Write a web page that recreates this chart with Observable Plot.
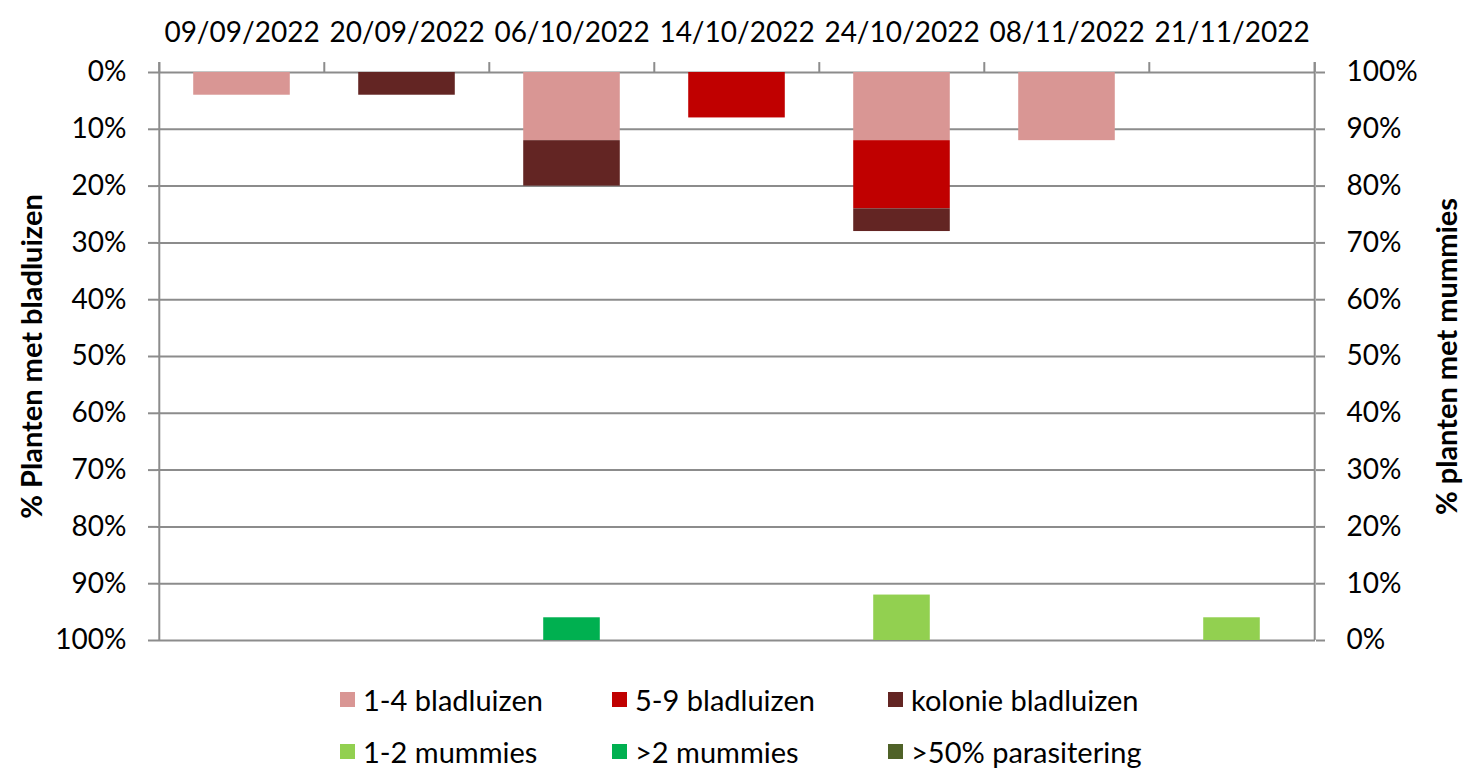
<!DOCTYPE html>
<html>
<head>
<meta charset="utf-8">
<script src="https://cdn.jsdelivr.net/npm/d3@7"></script>
<script src="https://cdn.jsdelivr.net/npm/@observablehq/plot@0.6"></script>
<style>
  html, body { margin: 0; padding: 0; background: #fff; }
  body { width: 1464px; height: 768px; overflow: hidden; font-family: Lato, "Open Sans", sans-serif; }
  #chart svg { display: block; }
  .legend { position: relative; height: 96px; font-family: Lato, sans-serif; font-size: 29px; color: #000; }
  .item { position: absolute; display: flex; align-items: center; white-space: nowrap; }
  .sw { width: 15px; height: 15px; margin-right: 8px; }
</style>
</head>
<body>
<div id="chart"></div>
<div class="legend" id="legend"></div>
<script>
const dates = ["09/09/2022","20/09/2022","06/10/2022","14/10/2022","24/10/2022","08/11/2022","21/11/2022"];
const aphidSeries = ["1-4 bladluizen","5-9 bladluizen","kolonie bladluizen"];
const mummySeries = ["1-2 mummies",">2 mummies",">50% parasitering"];
const colors = ["#D99694","#C00000","#632523","#92D050","#00B050","#4F6228"];

// % plants with aphids per date (left axis, stacked downward)
const aphid14 =   [4, 0, 12, 0, 12, 12, 0];
const aphid59 =   [0, 0, 0, 8, 12, 0, 0];
const aphidKol =  [0, 4, 8, 0, 4, 0, 0];
// % plants with mummies per date (right axis, upward)
const mum12 =     [0, 0, 0, 0, 8, 0, 4];
const mum2plus =  [0, 0, 4, 0, 0, 0, 0];
const mumPar =    [0, 0, 0, 0, 0, 0, 0];

const leftTicks = [0,10,20,30,40,50,60,70,80,90,100];

const aphidRows = [];
dates.forEach((d, i) => {
  [aphid14, aphid59, aphidKol].forEach((arr, s) => {
    if (arr[i] > 0) aphidRows.push({date: d, series: aphidSeries[s], value: arr[i]});
  });
});
const mumRows = [];
dates.forEach((d, i) => {
  let acc = 0;
  [mum12, mum2plus, mumPar].forEach((arr, s) => {
    if (arr[i] > 0) {
      mumRows.push({date: d, series: mummySeries[s], y1: 100 - acc, y2: 100 - acc - arr[i]});
      acc += arr[i];
    }
  });
});

const W = 1464, H = 672;
const mL = 157, mR = 149, mT = 72, mB = 32;
const bw = (W - mL - mR) / dates.length;
const grid = "#8c8c8c";

const chart = Plot.plot({
  width: W, height: H,
  marginLeft: mL, marginRight: mR, marginTop: mT, marginBottom: mB,
  style: {fontFamily: "Lato, sans-serif", fontSize: "28px", color: "#000", background: "#fff"},
  x: {type: "band", domain: dates, padding: 0},
  y: {domain: [0, 100], reverse: true},
  color: {domain: [...aphidSeries, ...mummySeries], range: colors},
  marks: [
    Plot.ruleY(leftTicks, {y: d => d, stroke: grid, strokeWidth: 2}),
    Plot.barY(aphidRows, Plot.stackY({x: "date", y: "value", fill: "series", insetLeft: (bw - 97) / 2, insetRight: (bw - 97) / 2})),
    Plot.barY(mumRows, {x: "date", y1: "y1", y2: "y2", fill: "series", insetLeft: (bw - 57) / 2, insetRight: (bw - 57) / 2}),
    // category separators at top
    Plot.ruleX(dates, {x: d => d, dx: -bw / 2, y1: 0, y2: -1.75, stroke: grid, strokeWidth: 2}),
    Plot.ruleX(dates.slice(-1), {x: d => d, dx: bw / 2, y1: 0, y2: -1.75, stroke: grid, strokeWidth: 2}),
    // left and right axis lines
    Plot.ruleX(dates.slice(0, 1), {x: d => d, dx: -bw / 2, y1: -1.75, y2: 100, stroke: grid, strokeWidth: 2}),
    Plot.ruleX(dates.slice(-1), {x: d => d, dx: bw / 2, y1: -1.75, y2: 100, stroke: grid, strokeWidth: 2}),
    Plot.axisX({anchor: "top", tickSize: 0, tickPadding: 31, label: null, fontSize: 28}),
    Plot.axisY(leftTicks, {anchor: "left", tickSize: 9, tickPadding: 22, stroke: grid, strokeWidth: 2,
      tickFormat: d => d + "%", label: null, fontSize: 28}),
    Plot.axisY(leftTicks, {anchor: "right", tickSize: 9, tickPadding: 22, stroke: grid, strokeWidth: 2,
      tickFormat: d => (100 - d) + "%", label: null, fontSize: 28}),
    Plot.text(["% Planten met bladluizen"], {frameAnchor: "left", textAnchor: "middle", dx: -125, rotate: -90, fontWeight: "bold", fontSize: 29, text: d => d}),
    Plot.text(["% planten met mummies"], {frameAnchor: "right", textAnchor: "middle", dx: 132, rotate: -90, fontWeight: "bold", fontSize: 29, text: d => d})
  ]
});
document.getElementById("chart").appendChild(chart);

// legend
const legend = document.getElementById("legend");
const allSeries = [...aphidSeries, ...mummySeries];
const lefts = [340, 612, 888];
allSeries.forEach((s, i) => {
  const el = document.createElement("div");
  el.className = "item";
  el.style.left = lefts[i % 3] + "px";
  el.style.top = (i < 3 ? 10 : 62) + "px";
  el.innerHTML = `<span class="sw" style="background:${colors[i]}"></span><span>${s}</span>`;
  legend.appendChild(el);
});
</script>
</body>
</html>
